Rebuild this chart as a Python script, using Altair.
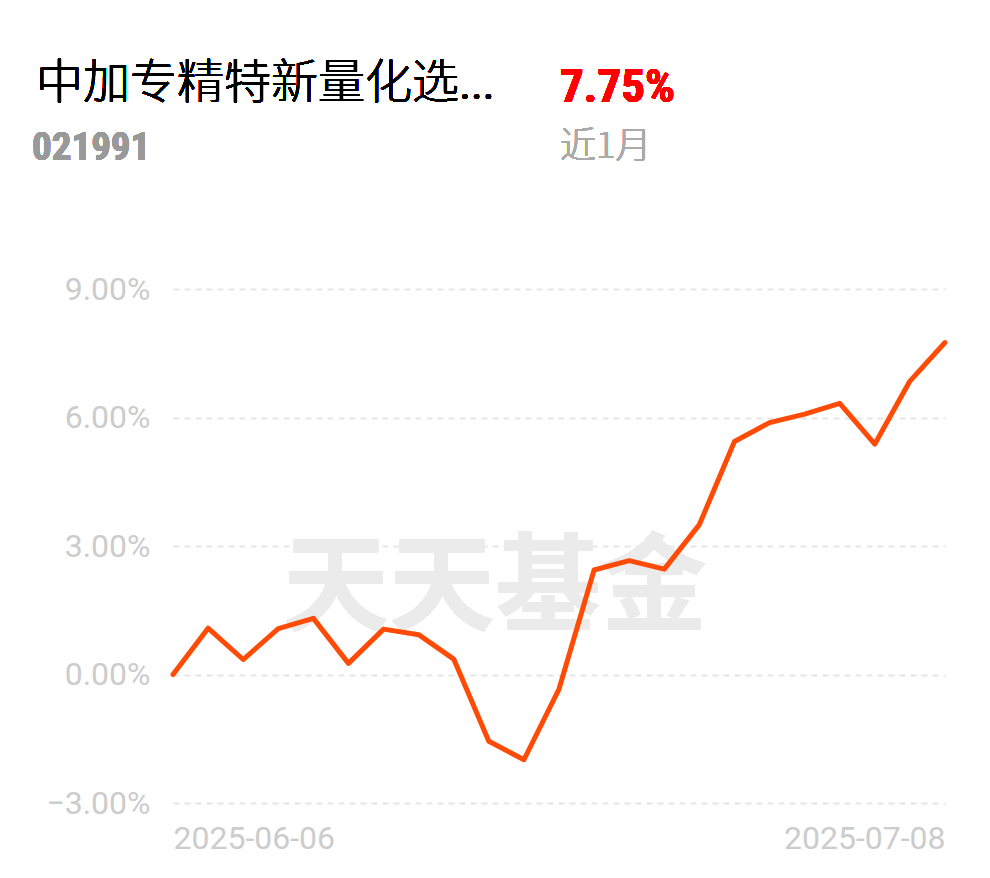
import altair as alt
import pandas as pd

# ---- data ----
dates = [
    "2025-06-06", "2025-06-09", "2025-06-10", "2025-06-11", "2025-06-12", "2025-06-13",
    "2025-06-16", "2025-06-17", "2025-06-18", "2025-06-19", "2025-06-20",
    "2025-06-23", "2025-06-24", "2025-06-25", "2025-06-26", "2025-06-27",
    "2025-06-30", "2025-07-01", "2025-07-02", "2025-07-03", "2025-07-04",
    "2025-07-07", "2025-07-08",
]
returns = [
    0.00, 1.08, 0.35, 1.07, 1.31, 0.26,
    1.06, 0.93, 0.36, -1.56, -1.99,
    -0.34, 2.44, 2.66, 2.46, 3.50,
    5.44, 5.88, 6.08, 6.33, 5.38,
    6.85, 7.75,
]
y_ticks = [-3, 0, 3, 6, 9]
x_ticks = [dates[0], dates[-1]]

fund_name = "中加专精特新量化选..."
fund_code = "021991"
period_return = "7.75%"
period_label = "近1月"
watermark = "天天基金"

df = pd.DataFrame({"date": dates, "value": returns})

W, H = 772, 514
CJK = "Noto Sans CJK SC"
NUM = "Roboto"
NARROW = "Liberation Sans Narrow, Roboto Condensed, DejaVu Sans Condensed, Roboto"

x_enc = alt.X(
    "date:O",
    sort=None,
    scale=alt.Scale(type="point", padding=0),
    axis=alt.Axis(
        values=x_ticks, labelFlush=True, labelAngle=0, title=None,
        domain=False, ticks=False, grid=False,
        labelFontSize=32, labelColor="#cccccc", labelFont=NUM,
        labelPadding=20,
    ),
)
y_enc = alt.Y(
    "value:Q",
    scale=alt.Scale(domain=[-3, 9], nice=False, zero=False),
    axis=alt.Axis(
        values=y_ticks,
        labelExpr="format(datum.value, '.2f') + '%'",
        title=None, domain=False, ticks=False,
        grid=True, gridDash=[6, 5], gridColor="#e6e6e6", gridWidth=2,
        labelFontSize=32, labelColor="#cccccc", labelFont=NUM,
        labelPadding=23,
    ),
)

wm = alt.Chart(df).mark_text(
    font=CJK, fontSize=106, fontWeight="bold", color="#ebebeb",
    align="center", baseline="middle",
).encode(x=alt.value(322), y=alt.value(301), text=alt.value(watermark))

line = alt.Chart(df).mark_line(
    color="#FF4B06", strokeWidth=5, strokeJoin="round", strokeCap="round"
).encode(x=x_enc, y=y_enc)

def label(txt, x, y, size, color, weight="normal", font=CJK):
    return alt.Chart(df).mark_text(
        font=font, fontSize=size, fontWeight=weight, color=color,
        align="left", baseline="alphabetic",
    ).encode(x=alt.value(x), y=alt.value(y), text=alt.value(txt))

t1 = label(fund_name, -137, -191, 47, "#000000", 300)
t2 = label(fund_code, -141, -129, 39, "#999999", "bold", NARROW)
t3 = label(period_return, 387, -187, 47, "#FF0000", "bold", NARROW)
t4 = label(period_label, 387, -131, 36, "#aaaaaa", 300)

chart = alt.layer(wm, line, t1, t2, t3, t4).properties(
    width=W, height=H,
    autosize=alt.AutoSizeParams(type="none"),
    padding={"left": 165, "top": 281, "right": 30, "bottom": 60},
    background="white",
).configure_view(stroke=None)

chart.save("out.html", embed_options={"renderer": "svg", "actions": False})
